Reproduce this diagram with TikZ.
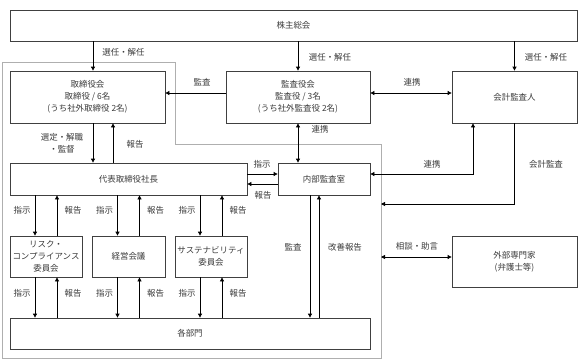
\documentclass[tikz,border=0pt]{standalone}
\usepackage{fontspec}
\setmainfont{Noto Sans CJK JP}
\usepackage{tikz}
\usetikzlibrary{
  arrows.meta,
  positioning,
  calc
}
\definecolor{cgLine}{HTML}{404040}
\definecolor{cgText}{HTML}{3A3A3A}
\definecolor{cgGroup}{HTML}{AFAFAF}
\newcommand{\cgfont}{\fontsize{8.5}{12}\selectfont}
\tikzset{
  cgbox/.style={
    draw=cgLine, line width=0.8pt, inner sep=0pt, align=center,
    text=cgText, font=\cgfont
  },
  cgarrow/.style={-{Triangle[length=4bp, width=4bp]}, line width=0.8pt, black},
  cgboth/.style={{Triangle[length=4bp, width=4bp]}-{Triangle[length=4bp, width=4bp]}, line width=0.8pt, black},
  cglabel/.style={font=\cgfont, text=cgText, inner sep=0pt, align=center},
  cggroup/.style={draw=cgGroup, line width=0.8pt}
}

\begin{document}
\begin{tikzpicture}[x=1bp, y=1bp]
  \useasboundingbox (0,0) rectangle (587,-360);
  % company group boundary
  \draw[cggroup] (2,-62) -- (175,-62) -- (175,-144) -- (381,-144) -- (381,-358) -- (2,-358) -- cycle;
  \coordinate (audit) at (381,-204);
  \coordinate (advice) at (381,-257);

  \node[cgbox, minimum width=567bp, minimum height=31bp] (kabu) at (293.5,-25.5) {株主総会};
  \node[cgbox, minimum width=155bp, minimum height=52bp] (tori) at (87.5,-97) {取締役会\\取締役 / 6名\\(うち社外取締役 2名)};
  \node[cgbox, minimum width=144bp, minimum height=52bp] (kansa) at (298,-97) {監査役会\\監査役 / 3名\\(うち社外監査役 2名)};
  \node[cgbox, minimum width=125bp, minimum height=52bp] (kaikei) at (514.5,-97) {会計監査人};
  \node[cgbox, minimum width=237bp, minimum height=32bp] (pres) at (128.5,-179) {代表取締役社長};
  \node[cgbox, minimum width=92bp, minimum height=32bp] (naibu) at (324,-179) {内部監査室};
  \node[cgbox, minimum width=72bp, minimum height=41bp] (risk) at (46,-256.5) {リスク・\\コンプライアンス\\委員会};
  \node[cgbox, minimum width=73bp, minimum height=41bp] (keiei) at (128.5,-256.5) {経営会議};
  \node[cgbox, minimum width=72bp, minimum height=41bp] (sust) at (211,-256.5) {サステナビリティ\\委員会};
  \node[cgbox, minimum width=360bp, minimum height=31bp] (bumon) at (190,-333.5) {各部門};
  \node[cgbox, minimum width=125bp, minimum height=51bp] (gaibu) at (514.5,-261.5) {外部専門家\\(弁護士等)};

  % shareholders
  \draw[cgarrow] ([xshift=5.5bp]tori.north |- kabu.south) -- ([xshift=5.5bp]tori.north);
  \draw[cgarrow] (kabu.south -| kansa.north) -- (kansa.north);
  \draw[cgarrow] (kabu.south -| kaikei.north) -- (kaikei.north);
  \node[cglabel] (sen1) at (123.5,-52) {選任・解任};
  \node[cglabel] (sen2) at (330,-57) {選任・解任};
  \node[cglabel] (sen3) at (546,-57) {選任・解任};

  % auditors
  \draw[cgarrow] ([yshift=4bp]kansa.west) -- ([yshift=4bp]kansa.west -| tori.east);
  \draw[cgboth] ([yshift=4bp]kansa.east) -- ([yshift=4bp]kansa.east -| kaikei.west);
  \draw[cgboth] (kansa.south) -- (kansa.south |- naibu.north);
  \draw[cgboth] ([xshift=-41.5bp]kaikei.south) |- ([yshift=5bp]naibu.east);
  \draw[cgarrow] (kaikei.south) |- (audit);
  \draw[cgboth] (advice) -- (advice -| gaibu.west);
  \node[cglabel] (kansaL) at (202,-82) {監査};
  \node[cglabel] (renkei1) at (412,-82) {連携};
  \node[cglabel] (renkei2) at (320,-129) {連携};
  \node[cglabel] (renkei3) at (432,-164) {連携};
  \node[cglabel] (kaikeiL) at (546,-164) {会計監査};
  \node[cglabel] (soudan) at (417,-246) {相談・助言};

  % board and president
  \draw[cgarrow] ([xshift=5.5bp]tori.south) -- ([xshift=5.5bp]tori.south |- pres.north);
  \draw[cgarrow] ([xshift=25.5bp]tori.south |- pres.north) -- ([xshift=25.5bp]tori.south);
  \draw[cgarrow] ([yshift=5bp]pres.east) -- ([yshift=5bp]naibu.west);
  \draw[cgarrow] ([yshift=-5bp]naibu.west) -- ([yshift=-5bp]pres.east);
  \node[cglabel] (sentei) at (62,-143) {選定・解職\\・監督};
  \node[cglabel] (houkoku1) at (135,-144) {報告};
  \node[cglabel] (shiji1) at (262,-164) {指示};
  \node[cglabel] (houkoku2) at (263,-195) {報告};

  % internal audit
  \draw[cgarrow] ([xshift=-14bp]naibu.south) -- ([xshift=-14bp]naibu.south |- bumon.north);
  \draw[cgarrow] ([xshift=-5bp]naibu.south |- bumon.north) -- ([xshift=-5bp]naibu.south);
  \node[cglabel] (kansa2) at (293,-247) {監査};
  \node[cglabel] (kaizen) at (345,-247) {改善報告};

  % committees
  \foreach \c in {risk, keiei, sust} {
    \draw[cgarrow] ([xshift=-11bp]\c.north |- pres.south) -- ([xshift=-11bp]\c.north);
    \draw[cgarrow] ([xshift=11bp]\c.north) -- ([xshift=11bp]\c.north |- pres.south);
    \draw[cgarrow] ([xshift=-11bp]\c.south) -- ([xshift=-11bp]\c.south |- bumon.north);
    \draw[cgarrow] ([xshift=11bp]\c.south |- bumon.north) -- ([xshift=11bp]\c.south);
    \node[cglabel] (\c-s1) at ($(\c.north)+(-24,25)$) {指示};
    \node[cglabel] (\c-h1) at ($(\c.north)+(27,25)$) {報告};
    \node[cglabel] (\c-s2) at ($(\c.south)+(-24,-16)$) {指示};
    \node[cglabel] (\c-h2) at ($(\c.south)+(27,-16)$) {報告};
  }
\end{tikzpicture}
\end{document}
